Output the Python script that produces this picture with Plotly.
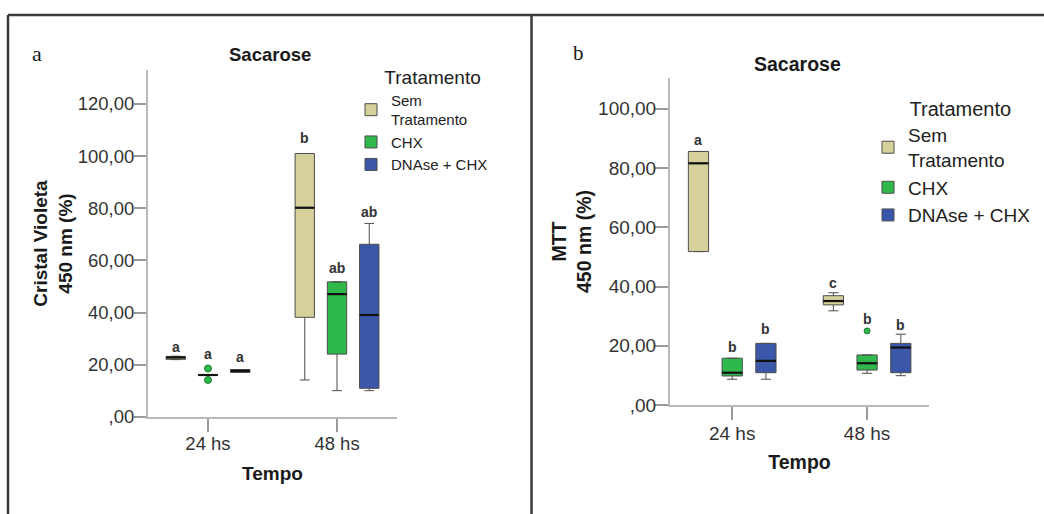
import plotly.graph_objects as go

# ---------------- data ----------------
categories = ["24 hs", "48 hs"]
treatments = ["Sem<br>Tratamento", "CHX", "DNAse + CHX"]
colors = ["#d6d19b", "#2fb84b", "#3b57a9"]
outlier_line = ["#8a8650", "#1d7a31", "#23386f"]

# five-number summaries per time point: [lower whisker, Q1, median, Q3, upper whisker]
# Panel a - Cristal Violeta 450 nm (%)
cv_sem = [[22.0, 22.1, 22.8, 23.2, 23.3], [14.2, 38.2, 80.2, 101.0, 101.0]]
cv_chx = [[16.0, 16.0, 16.1, 16.2, 16.2], [10.1, 24.1, 47.1, 51.8, 51.8]]
cv_dnase = [[17.1, 17.1, 17.7, 18.2, 18.2], [10.1, 11.0, 39.1, 66.2, 74.2]]
cv_outliers = [[[], []], [[18.6, 14.2], []], [[], []]]
cv_letters = [["a", "b"], ["a", "ab"], ["a", "ab"]]
cv_letter_y = [[27.0, 107.0], [24.1, 57.0], [22.9, 78.7]]

# Panel b - MTT 450 nm (%)
mtt_sem = [[51.8, 51.8, 81.6, 85.6, 85.6], [31.8, 33.8, 35.1, 36.9, 37.9]]
mtt_chx = [[8.7, 9.8, 10.9, 15.8, 15.8], [10.7, 11.8, 14.1, 16.9, 16.9]]
mtt_dnase = [[8.7, 10.9, 14.9, 20.8, 20.8], [9.9, 10.9, 19.4, 20.8, 23.9]]
mtt_outliers = [[[], []], [[], [25.0]], [[], []]]
mtt_letters = [["a", "c"], ["b", "b"], ["b", "b"]]
mtt_letter_y = [[89.5, 41.3], [19.7, 29.0], [25.6, 27.0]]

cv_tickvals = [0, 20, 40, 60, 80, 100, 120]
cv_ticktext = [",00", "20,00", "40,00", "60,00", "80,00", "100,00", "120,00"]
mtt_tickvals = [0, 20, 40, 60, 80, 100]
mtt_ticktext = [",00", "20,00", "40,00", "60,00", "80,00", "100,00"]

legend_title = "Tratamento"

# ---------------- layout constants ----------------
W, H = 1044, 514
SANS = "Liberation Sans, Arial, sans-serif"
SERIF = "Liberation Serif, Times New Roman, serif"
NBSP = "\u00a0"
NTR = len(treatments)
GROUP_SPAN = 0.75          # fraction of a category slot used by the group of boxes
BOX_FRAC = 0.6             # fraction of each sub-slot filled by a box
slot = GROUP_SPAN / NTR
offsets = [(k - (NTR - 1) / 2) * slot for k in range(NTR)]
box_w = slot * BOX_FRAC
half_w = box_w / 2

fig = go.Figure()
shapes = []
annotations = []


def add_panel(series, outliers, letters, letter_y, xref, yref, legend, msize, lfont):
    for k, (name, stats) in enumerate(zip(treatments, series)):
        xs = [i + offsets[k] for i in range(len(categories))]
        fig.add_trace(go.Box(
            x=xs,
            lowerfence=[s[0] for s in stats],
            q1=[s[1] for s in stats],
            median=[s[2] for s in stats],
            q3=[s[3] for s in stats],
            upperfence=[s[4] for s in stats],
            name=name,
            width=box_w,
            fillcolor=colors[k],
            line=dict(color="#4d4d4d", width=1),
            whiskerwidth=0.5,
            boxpoints=False,
            xaxis=xref, yaxis=yref,
            legend=legend,
            hoverinfo="skip",
        ))
        ox, oy = [], []
        for i, vals in enumerate(outliers[k]):
            for v in vals:
                ox.append(xs[i])
                oy.append(v)
        if ox:
            fig.add_trace(go.Scatter(
                x=ox, y=oy, mode="markers",
                marker=dict(color=colors[k], size=msize,
                            line=dict(color=outlier_line[k], width=1)),
                showlegend=False, xaxis=xref, yaxis=yref, hoverinfo="skip",
            ))
        for i, s in enumerate(stats):
            cx = xs[i]
            shapes.append(dict(type="line", xref=xref, yref=yref,
                               x0=cx - half_w, x1=cx + half_w, y0=s[2], y1=s[2],
                               line=dict(color="#111111", width=2.2)))
            annotations.append(dict(xref=xref, yref=yref, x=cx, y=letter_y[k][i],
                                    text="<b>%s</b>" % letters[k][i], showarrow=False,
                                    font=dict(family=SANS, size=lfont, color="#333333"),
                                    xanchor="center", yanchor="middle"))


add_panel([cv_sem, cv_chx, cv_dnase], cv_outliers, cv_letters, cv_letter_y,
          "x", "y", "legend", 7, 14)
add_panel([mtt_sem, mtt_chx, mtt_dnase], mtt_outliers, mtt_letters, mtt_letter_y,
          "x2", "y2", "legend2", 6, 14)

axis_common = dict(showline=True, linecolor="#b9b9b9", linewidth=2, showgrid=False,
                   zeroline=False, ticks="outside", tickcolor="#9a9a9a", tickwidth=1.5,
                   fixedrange=True, automargin=False)

top = 1 - 15 / H
shapes += [
    dict(type="line", xref="paper", yref="paper", x0=8 / W, x1=1, y0=top, y1=top,
         line=dict(color="#3a3a3a", width=2.5)),
    dict(type="line", xref="paper", yref="paper", x0=8 / W, x1=8 / W, y0=0, y1=top,
         line=dict(color="#3a3a3a", width=2.5)),
    dict(type="line", xref="paper", yref="paper", x0=531.5 / W, x1=531.5 / W, y0=0, y1=top,
         line=dict(color="#3a3a3a", width=2.5)),
]

annotations += [
    dict(xref="paper", yref="paper", x=37 / W, y=1 - 54 / H, text="a", showarrow=False,
         font=dict(family=SERIF, size=22, color="#1a1a1a"), xanchor="center", yanchor="middle"),
    dict(xref="paper", yref="paper", x=578 / W, y=1 - 53 / H, text="b", showarrow=False,
         font=dict(family=SERIF, size=21, color="#1a1a1a"), xanchor="center", yanchor="middle"),
    dict(xref="paper", yref="paper", x=270 / W, y=1 - 55 / H, text="<b>Sacarose</b>",
         showarrow=False, font=dict(family=SANS, size=18.5, color="#1a1a1a"),
         xanchor="center", yanchor="middle"),
    dict(xref="paper", yref="paper", x=797 / W, y=1 - 64 / H, text="<b>Sacarose</b>",
         showarrow=False, font=dict(family=SANS, size=19.5, color="#1a1a1a"),
         xanchor="center", yanchor="middle"),
]

fig.update_layout(
    width=W, height=H, autosize=False,
    margin=dict(l=0, r=0, t=0, b=0, pad=0, autoexpand=False),
    paper_bgcolor="white", plot_bgcolor="white",
    boxmode="overlay",
    font=dict(family=SANS, color="#333333"),
    xaxis=dict(axis_common, domain=[148 / W, 397 / W], range=[-0.465, 1.465],
               tickvals=list(range(len(categories))), ticktext=categories, ticklen=13,
               ticklabelstandoff=-4,
               tickfont=dict(size=18.5, color="#333333"),
               title=dict(text="<b>Tempo</b>", font=dict(size=19, color="#1a1a1a"), standoff=13),
               anchor="y"),
    yaxis=dict(axis_common, domain=[(H - 417) / H, (H - 70) / H], range=[0, 133],
               tickvals=cv_tickvals, ticktext=cv_ticktext, ticklen=12,
               ticklabelstandoff=-4,
               tickfont=dict(size=18.5, color="#333333"),
               title=dict(text="<b>Cristal Violeta<br>450 nm (%)</b>",
                          font=dict(size=19, color="#1a1a1a"), standoff=0),
               anchor="x"),
    xaxis2=dict(axis_common, domain=[670 / W, 929 / W], range=[-0.461, 1.459],
                tickvals=list(range(len(categories))), ticktext=categories, ticklen=13,
                ticklabelstandoff=-3,
                tickfont=dict(size=19, color="#333333"),
                title=dict(text="<b>Tempo</b>", font=dict(size=19.5, color="#1a1a1a"), standoff=13),
                anchor="y2"),
    yaxis2=dict(axis_common, domain=[(H - 405) / H, (H - 78) / H], range=[0, 110.4],
                tickvals=mtt_tickvals, ticktext=mtt_ticktext, ticklen=13,
                ticklabelstandoff=-5,
                tickfont=dict(size=19, color="#333333"),
                title=dict(text="<b>MTT<br>450 nm (%)</b>",
                           font=dict(size=19.5, color="#1a1a1a"), standoff=1),
                anchor="x2"),
    legend=dict(x=351 / W, y=1 - 59 / H, xanchor="left", yanchor="top",
                bgcolor="rgba(0,0,0,0)", tracegroupgap=0,
                font=dict(family=SANS, size=15, color="#222222"),
                title=dict(text=NBSP * 4 + legend_title, side="top center",
                           font=dict(family=SANS, size=19, color="#222222"))),
    legend2=dict(x=868 / W, y=1 - 90 / H, xanchor="left", yanchor="top",
                 bgcolor="rgba(0,0,0,0)", tracegroupgap=0,
                 font=dict(family=SANS, size=19, color="#222222"),
                 title=dict(text=NBSP * 3 + legend_title, side="top center",
                            font=dict(family=SANS, size=20, color="#222222"))),
    shapes=shapes,
    annotations=annotations,
)

fig.write_html(
    "out.html",
    config={"displayModeBar": False, "responsive": False},
    post_script="document.body.style.margin='0px';",
)
